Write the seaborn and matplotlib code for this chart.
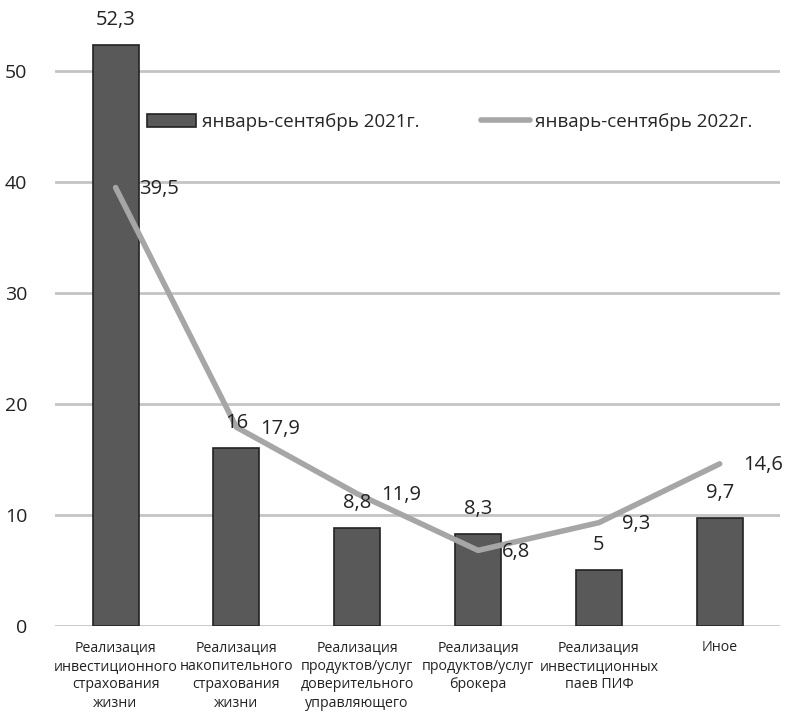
import numpy as np
import pandas as pd
import matplotlib
matplotlib.use('Agg')
import matplotlib.pyplot as plt
import seaborn as sns

# данные
categories = ['Реализация\nинвестиционного\nстрахования\nжизни',
              'Реализация\nнакопительного\nстрахования\nжизни',
              'Реализация\nпродуктов/услуг\nдоверительного\nуправляющего',
              'Реализация\nпродуктов/услуг\nброкера',
              'Реализация\nинвестиционных\nпаев ПИФ',
              'Иное']
values_2021 = [52.3, 16, 8.8, 8.3, 5, 9.7]
values_2022 = [39.5, 17.9, 11.9, 6.8, 9.3, 14.6]
label_2021 = 'январь-сентябрь 2021г.'
label_2022 = 'январь-сентябрь 2022г.'

df = pd.DataFrame({'cat': categories, 'v2021': values_2021, 'v2022': values_2022})
df['pos'] = np.arange(len(df))

sns.set_style('white')
plt.rcParams['font.family'] = ['Open Sans', 'DejaVu Sans']

fig = plt.figure(figsize=(7.88, 7.12), dpi=100)
ax = fig.add_axes([0.07, 0.121, 0.92, 0.879])

ax.yaxis.grid(True, color='#c4c4c4', linewidth=2)
ax.set_axisbelow(True)

sns.barplot(data=df, x='cat', y='v2021', ax=ax, color='#595959', width=0.38,
            edgecolor='#222222', linewidth=1.2, saturation=1, label=label_2021)
sns.lineplot(data=df, x='pos', y='v2022', ax=ax, color='#a6a6a6', linewidth=4,
             solid_capstyle='round', label=label_2022)

# подписи значений
fmt = lambda v: f'{v:g}'.replace('.', ',')
for x, v in zip(df['pos'], values_2021):
    ax.annotate(fmt(v), (x, v), xytext=(0, 18), textcoords='offset points',
                ha='center', va='center', fontsize=14.5, color='#222222')
for x, v in zip(df['pos'], values_2022):
    ax.annotate(fmt(v), (x, v), xytext=(17, -1), textcoords='offset points',
                ha='left', va='center', fontsize=14.5, color='#222222')

ax.set_ylim(0, 56.4)
ax.set_xlim(-0.5, 5.5)
ax.set_yticks([0, 10, 20, 30, 40, 50])
ax.tick_params(axis='y', labelsize=14, length=0, pad=20, colors='#222222')
ax.tick_params(axis='x', labelsize=10.2, length=0, pad=10, colors='#222222')
for t in ax.get_xticklabels():
    t.set_linespacing(1.35)
ax.set_xlabel('')
ax.set_ylabel('')
for s in ax.spines.values():
    s.set_visible(False)

handles, labels = ax.get_legend_handles_labels()
order = [labels.index(label_2021), labels.index(label_2022)]
ax.legend([handles[i] for i in order], [labels[i] for i in order],
          loc='center left', bbox_to_anchor=(0.127, 0.805), ncol=2, frameon=False,
          fontsize=13.5, columnspacing=3.3, handlelength=2.6, handletextpad=0.3,
          borderpad=0, borderaxespad=0)

fig.savefig('out.png', dpi=100)
